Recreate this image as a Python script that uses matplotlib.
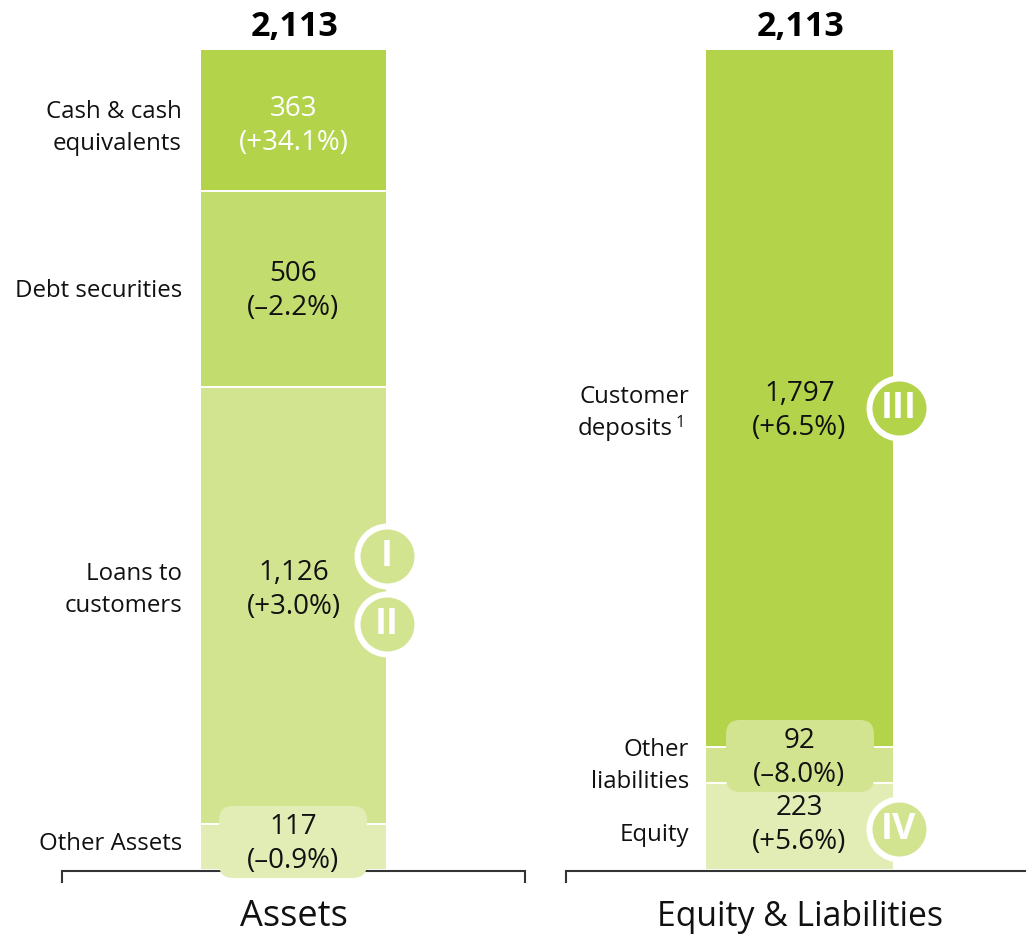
import matplotlib
matplotlib.use("Agg")
import matplotlib.pyplot as plt
from matplotlib.patches import FancyBboxPatch

# data, billions, bottom to top
assets_labels = ["Other Assets", "Loans to\ncustomers", "Debt securities", "Cash & cash\nequivalents"]
assets_values = [117, 1126, 506, 363]
assets_changes = ["(–0.9%)", "(+3.0%)", "(–2.2%)", "(+34.1%)"]
assets_colors = ["#e2edb6", "#d3e491", "#c2dc6e", "#b2d34a"]

liab_labels = ["Equity", "Other\nliabilities", "Customer\ndeposits"]
liab_values = [223, 92, 1797]
liab_changes = ["(+5.6%)", "(–8.0%)", "(+6.5%)"]
liab_colors = ["#e2edb6", "#d3e491", "#b2d34a"]

total_label = "2,113"
group_names = ["Assets", "Equity & Liabilities"]

plt.rcParams["font.family"] = ["Open Sans", "DejaVu Sans"]
FS = 17.3
VS = 20
DARK = "#111111"

# pixel based x axis, value based y axis (0 at y=869px, 2113 at y=50px)
scale = (869 - 50) / 2113
fig = plt.figure(figsize=(10.26, 9.35), dpi=100)
ax = fig.add_axes([0, 0, 1, 1])
ax.set_xlim(0, 1026)
ax.set_ylim(-(935 - 869) / scale, 869 / scale)
ax.axis("off")


def py(p):
    return (869 - p) / scale


def two_lines(x, p, value, change, color=DARK):
    ax.text(x, py(p - 17), value, ha="center", va="center", fontsize=VS, color=color, zorder=6)
    ax.text(x, py(p + 17), change, ha="center", va="center", fontsize=VS, color=color, zorder=6)


def stack(x, width, values, colors):
    bottom = 0
    for v, c in zip(values, colors):
        ax.bar(x, v, width=width, bottom=bottom, color=c, linewidth=0, zorder=1)
        bottom += v
        if bottom < sum(values):
            ax.hlines(bottom, x - width / 2, x + width / 2, color="white", lw=1.4, zorder=2)


def bracket(x0, x1):
    ax.plot([x0, x0, x1, x1], [py(882), py(871), py(871), py(882)], color="#333333", lw=1.5, zorder=3,
            solid_joinstyle="miter")


def pill(x0, x1, p0, p1, color):
    box = FancyBboxPatch((x0, py(p1)), x1 - x0, (p1 - p0) / scale, boxstyle="round,pad=0,rounding_size=14",
                         mutation_aspect=1 / scale, fc=color, ec="none", zorder=4)
    ax.add_patch(box)


def badge(x, p, text, color):
    ax.scatter([x], [py(p)], s=(60 * 0.72) ** 2, color=color, edgecolors="white", linewidths=4.3, zorder=5)
    ax.text(x, py(p + 1), text, ha="center", va="center", fontsize=26, fontweight="bold", color="white", zorder=6)


# assets
stack(293.5, 185, assets_values, assets_colors)
bracket(62, 525)
pill(219, 367, 806, 878, assets_colors[0])
two_lines(293.5, 844, assets_values[0], assets_changes[0])
two_lines(293.5, 590, f"{assets_values[1]:,}", assets_changes[1])
two_lines(293.5, 291, assets_values[2], assets_changes[2])
two_lines(293.5, 126, assets_values[3], assets_changes[3], "white")

for lab, p in zip(assets_labels, [844, 590, 291, 128]):
    ax.text(182, py(p), lab, ha="right", va="center", fontsize=FS, color=DARK, linespacing=1.42)

badge(387, 556, "I", assets_colors[1])
badge(387, 624, "II", assets_colors[1])

# equity & liabilities
stack(799.5, 187, liab_values, liab_colors)
bracket(566, 1040)
pill(726, 874, 720, 792, liab_colors[1])
two_lines(799.5, 825, liab_values[0], liab_changes[0])
two_lines(799.5, 758, liab_values[1], liab_changes[1])
two_lines(799.5, 411, f"{liab_values[2]:,}", liab_changes[2])

ax.text(689, py(835), liab_labels[0], ha="right", va="center", fontsize=FS, color=DARK)
ax.text(689, py(766), liab_labels[1], ha="right", va="center", fontsize=FS, color=DARK, linespacing=1.42)
ax.text(689, py(397), liab_labels[2].split("\n")[0], ha="right", va="center", fontsize=FS, color=DARK)
ax.text(673, py(429), liab_labels[2].split("\n")[1], ha="right", va="center", fontsize=FS, color=DARK)
ax.text(676, py(423), "1", ha="left", va="center", fontsize=12, color=DARK)

badge(899, 408, "III", liab_colors[2])
badge(899, 829, "IV", liab_colors[1])

# totals and group names
ax.text(294.5, py(27), total_label, ha="center", va="center", fontsize=24.5, fontweight="bold", color="black")
ax.text(800.5, py(27), total_label, ha="center", va="center", fontsize=24.5, fontweight="bold", color="black")
ax.text(294, py(917), group_names[0], ha="center", va="center", fontsize=26, color=DARK)
ax.text(800, py(917), group_names[1], ha="center", va="center", fontsize=24.3, color=DARK)

fig.savefig("out.png", dpi=100)
